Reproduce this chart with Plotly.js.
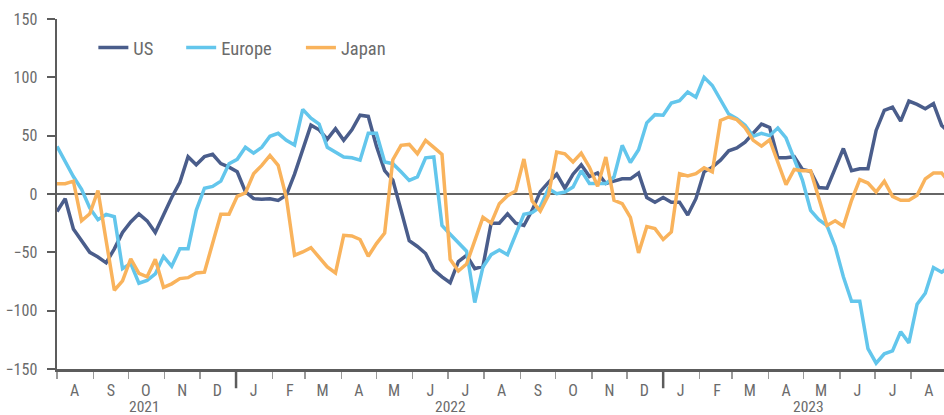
<!DOCTYPE html>
<html>
<head>
<meta charset="utf-8">
<script src="https://cdn.plot.ly/plotly-3.0.1.min.js"></script>
<style>
  html, body { margin: 0; padding: 0; overflow: hidden; background: #fff; }
  #chart { width: 944px; height: 415px; }
</style>
</head>
<body>
<div id="chart"></div>
<script>
// Weekly observations, first week starting 2021-08-01
const firstWeek = '2021-08-01';

const usValues = [
  -15, -4, -30, -40, -50, -54, -59, -47, -33, -24,
  -17, -23, -33, -18, -3, 10, 32, 25, 32, 34,
  26, 23, 19, 2, -4, -4.5, -4, -5.5, -1, 17,
  37, 59, 55, 47, 56, 46, 55, 67.5, 66.5, 41,
  20, 12, -14, -40, -45, -51, -65, -71, -76, -58,
  -52.5, -64, -62, -25, -25, -17, -25, -27, -14, 2,
  10, 17, 5, 17, 25, 15, 18, 9, 11, 13,
  13, 18, -3, -7, -3, -7, -7, -18, -4, 19,
  23, 29, 37, 39.5, 44.5, 52, 60, 57, 31, 31,
  32, 21, 19.5, 5.5, 5, 22, 39, 20, 21.7, 21.7,
  54.5, 71.7, 74.5, 62.5, 79.6, 76.8, 73, 77.4, 58.8, 52
];

const europeValues = [
  40.8, 27.4, 15, 4, -12, -22, -17.5, -19.5, -64, -59.5,
  -76.5, -74, -68.5, -53.5, -62, -47, -47, -14, 5, 6.5,
  11, 26, 29.7, 40, 35, 40, 49.5, 52, 46, 42,
  72.5, 65, 60, 40, 36, 31.7, 31, 29, 52, 52,
  27.4, 26, 19, 11.7, 14.6, 31, 31.7, -27, -34.5, -42,
  -49, -93, -62.5, -52, -48, -52, -34.5, -17.4, -16, -11,
  4.6, 0.3, 1.7, 6, 20, 9, 9, 9, 14.6, 41.7,
  27, 38, 61, 68, 67.5, 78, 80, 87.5, 83, 100,
  93, 81, 68.5, 64.5, 59, 49.5, 52, 50, 56.5, 48,
  30.5, 12, -14, -22, -27, -45, -71, -92, -92, -132.5,
  -145, -137, -134.5, -118, -127.6, -94.5, -85, -63, -67, -62
];

const japanValues = [
  8.8, 8.8, 11, -23, -17, 3, -40, -82.5, -74.5, -55.5,
  -68, -71, -56, -80, -77, -72.5, -71.7, -67.7, -67, -42.5,
  -17.4, -17.4, -2, 1, 17.4, 24.5, 33, 24.5, -3, -52.5,
  -49.7, -46, -54.5, -62.5, -67.7, -35.4, -36, -39, -53.4, -42.5,
  -33.4, 29.4, 41.7, 42.5, 34.5, 46, 40, 34, -56, -66,
  -60, -39.7, -20, -25, -8.3, -1.4, 2.6, 30, -6, -14.6,
  -1, 36, 34.5, 27.4, 35, 23, 6.6, 31.7, -5.4, -8.3,
  -20, -50.5, -28, -29.7, -39, -32.5, 17.4, 15.4, 17.4, 22.5,
  19, 63, 66, 63.7, 56.8, 46, 41, 46.5, 27.5, 8,
  21, 20, 20, -2.6, -27, -23, -27.7, -5.4, 12.3, 9.4,
  1.7, 11, -2, -5.4, -5.4, -1.1, 13, 18, 18, 9
];

// Axis labels
const monthLetters = ['A','S','O','N','D','J','F','M','A','M','J','J','A',
                      'S','O','N','D','J','F','M','A','M','J','J','A'];
const firstMonth = [2021, 8];
const yearLabels = ['2021', '2022', '2023'];
const yearLabelDates = ['2021-10-15', '2022-07-03', '2023-05-05'];
const yearStarts = ['2022-01-01', '2023-01-01'];
const yTicks = [-150, -100, -50, 0, 50, 100, 150];

function pad(n) { return (n < 10 ? '0' : '') + n; }
function weekDates(start, n) {
  const out = [];
  const d0 = new Date(start + 'T00:00:00Z');
  for (let i = 0; i < n; i++) {
    const d = new Date(d0.getTime() + i * 7 * 86400000);
    out.push(d.getUTCFullYear() + '-' + pad(d.getUTCMonth() + 1) + '-' + pad(d.getUTCDate()));
  }
  return out;
}
const dates = weekDates(firstWeek, usValues.length);

const midMonths = monthLetters.map((_, i) => {
  const m = firstMonth[1] - 1 + i;
  const y = firstMonth[0] + Math.floor(m / 12);
  return y + '-' + pad((m % 12) + 1) + '-16';
});

const FONT = "'Roboto Condensed', 'Liberation Sans Narrow', 'DejaVu Sans Condensed', Roboto, sans-serif";
const TXT = '#6b6b6b';
const AX = '#5c5c5c';

const traces = [
  { name: 'US', y: usValues, color: '#4a5d8b', legend: 'legend' },
  { name: 'Europe', y: europeValues, color: '#63c6ec', legend: 'legend2' },
  { name: 'Japan', y: japanValues, color: '#f9b35c', legend: 'legend3' }
].map(s => ({
  type: 'scatter', mode: 'lines', name: s.name, x: dates, y: s.y,
  line: { color: s.color, width: 3.5 }, legend: s.legend
}));

const legendBase = {
  orientation: 'h', yanchor: 'middle', y: 0.917, xanchor: 'left',
  bgcolor: 'rgba(0,0,0,0)', borderwidth: 0,
  font: { family: FONT, size: 18.5, color: TXT }
};

const layout = {
  width: 944, height: 415,
  margin: { l: 57, r: 0, t: 19, b: 46 },
  paper_bgcolor: '#fff', plot_bgcolor: '#fff',
  font: { family: FONT, size: 16, color: TXT },
  showlegend: true,
  legend: Object.assign({}, legendBase, { x: 0.041 }),
  legend2: Object.assign({}, legendBase, { x: 0.140 }),
  legend3: Object.assign({}, legendBase, { x: 0.275 }),
  xaxis: {
    type: 'date',
    range: ['2021-08-01', '2023-08-29'],
    showgrid: false, zeroline: false,
    showline: true, linecolor: AX, linewidth: 2.5,
    tickmode: 'array', tickvals: midMonths, ticktext: monthLetters,
    ticks: '', ticklen: 0, ticklabelstandoff: 5,
    tickfont: { family: FONT, size: 16, color: TXT },
    minor: { tickmode: 'linear', dtick: 'M1', tick0: '2021-08-01', ticks: 'outside',
             ticklen: 7, tickwidth: 1.5, tickcolor: '#9a9a9a', showgrid: false },
    fixedrange: true
  },
  yaxis: {
    range: [-150, 150],
    tickmode: 'array', tickvals: yTicks,
    showgrid: false,
    zeroline: true, zerolinecolor: '#666', zerolinewidth: 2,
    showline: true, linecolor: AX, linewidth: 2.5,
    ticks: 'outside', ticklen: 8, tickwidth: 2, tickcolor: AX,
    ticklabelstandoff: 6,
    tickfont: { family: FONT, size: 16, color: TXT },
    fixedrange: true
  },
  shapes: yearStarts.map(d => ({
    type: 'line', xref: 'x', yref: 'paper', x0: d, x1: d, y0: 0, y1: -0.055,
    line: { color: AX, width: 2.5 }
  })),
  annotations: yearLabels.map((t, i) => ({
    text: t, xref: 'x', yref: 'paper', x: yearLabelDates[i], y: -0.109,
    xanchor: 'center', yanchor: 'middle', showarrow: false,
    font: { family: FONT, size: 15.5, color: TXT }
  }))
};

Plotly.newPlot('chart', traces, layout, { displayModeBar: false, staticPlot: true });
</script>
</body>
</html>
